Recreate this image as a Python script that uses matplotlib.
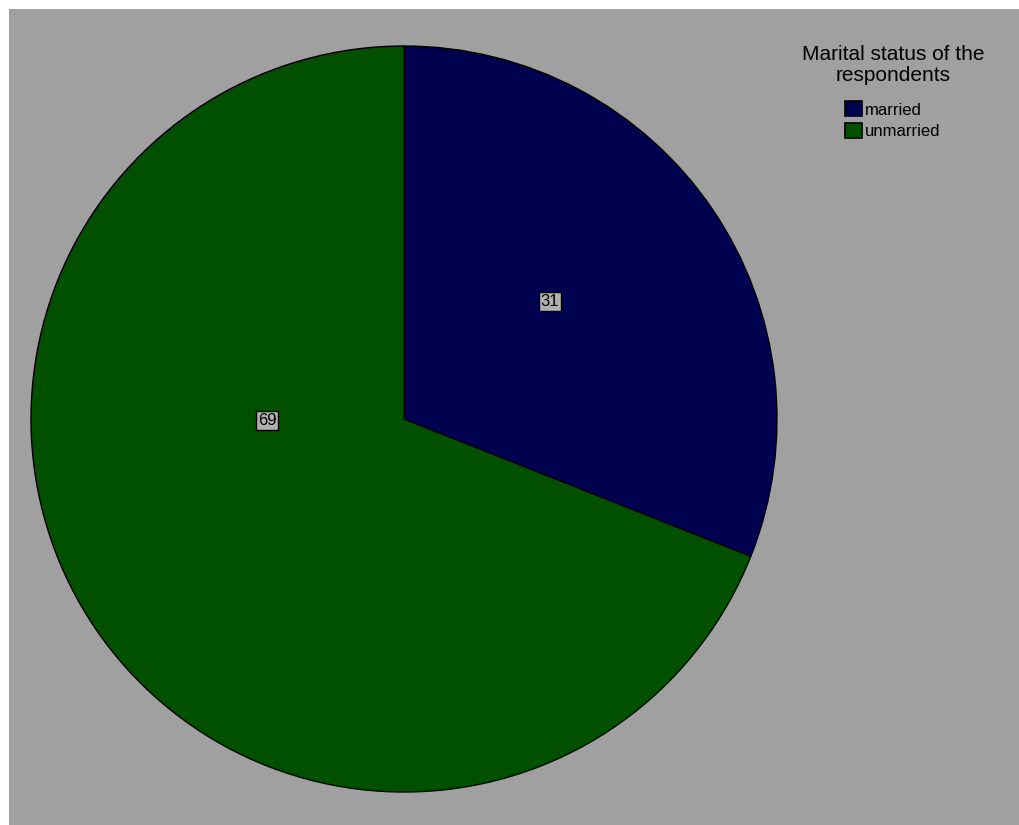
import matplotlib
matplotlib.use("Agg")
import matplotlib.pyplot as plt
from matplotlib.patches import Rectangle

# data
categories = ["married", "unmarried"]
values = [31, 69]
colors = ["#000050", "#005000"]
legend_title = "Marital status of the\nrespondents"
# where SPSS put the value labels (axes units, pie radius = 1)
label_pos = [(0.391, 0.316), (-0.367, -0.003)]

plt.rcParams["font.family"] = ["Liberation Sans", "DejaVu Sans"]

fig = plt.figure(figsize=(10.19, 8.25), dpi=100, facecolor="white")
# grey chart area, white strip top and left
fig.patches.append(Rectangle((9 / 1019, 0), 1, 816 / 825, transform=fig.transFigure,
                             facecolor="#a0a0a0", edgecolor="none", zorder=-1))

ax = fig.add_axes([31 / 1019, 33 / 825, 746 / 1019, 746 / 825])
ax.set_zorder(1)
ax.set_facecolor("none")
wedges, _ = ax.pie(values, colors=colors, startangle=90, counterclock=False,
                   wedgeprops=dict(edgecolor="black", linewidth=1))
ax.set_xlim(-1, 1)
ax.set_ylim(-1, 1)
ax.set_aspect("auto")
ax.axis("off")

for v, (x, y) in zip(values, label_pos):
    ax.text(x, y, str(v), ha="center", va="center", fontsize=12, color="black",
            bbox=dict(boxstyle="square,pad=0.12", facecolor="#b0b0b0",
                      edgecolor="black", linewidth=1))

leg = fig.legend(wedges, categories, title=legend_title, loc="upper center",
                 bbox_to_anchor=(893 / 1019, 1 - 30 / 825), frameon=False,
                 fontsize=12, title_fontsize=15, handlelength=1.0, handleheight=1.0,
                 handletextpad=0.2, labelspacing=0.3, alignment="center")
leg.set_zorder(2)
leg.get_title().set_multialignment("center")
leg.get_title().set_linespacing(1.12)
leg._legend_box.sep = 12  # gap between title and entries
for h in leg.legend_handles:
    h.set_edgecolor("black")
    h.set_linewidth(1.2)

fig.savefig("out.png", dpi=100, facecolor=fig.get_facecolor())
